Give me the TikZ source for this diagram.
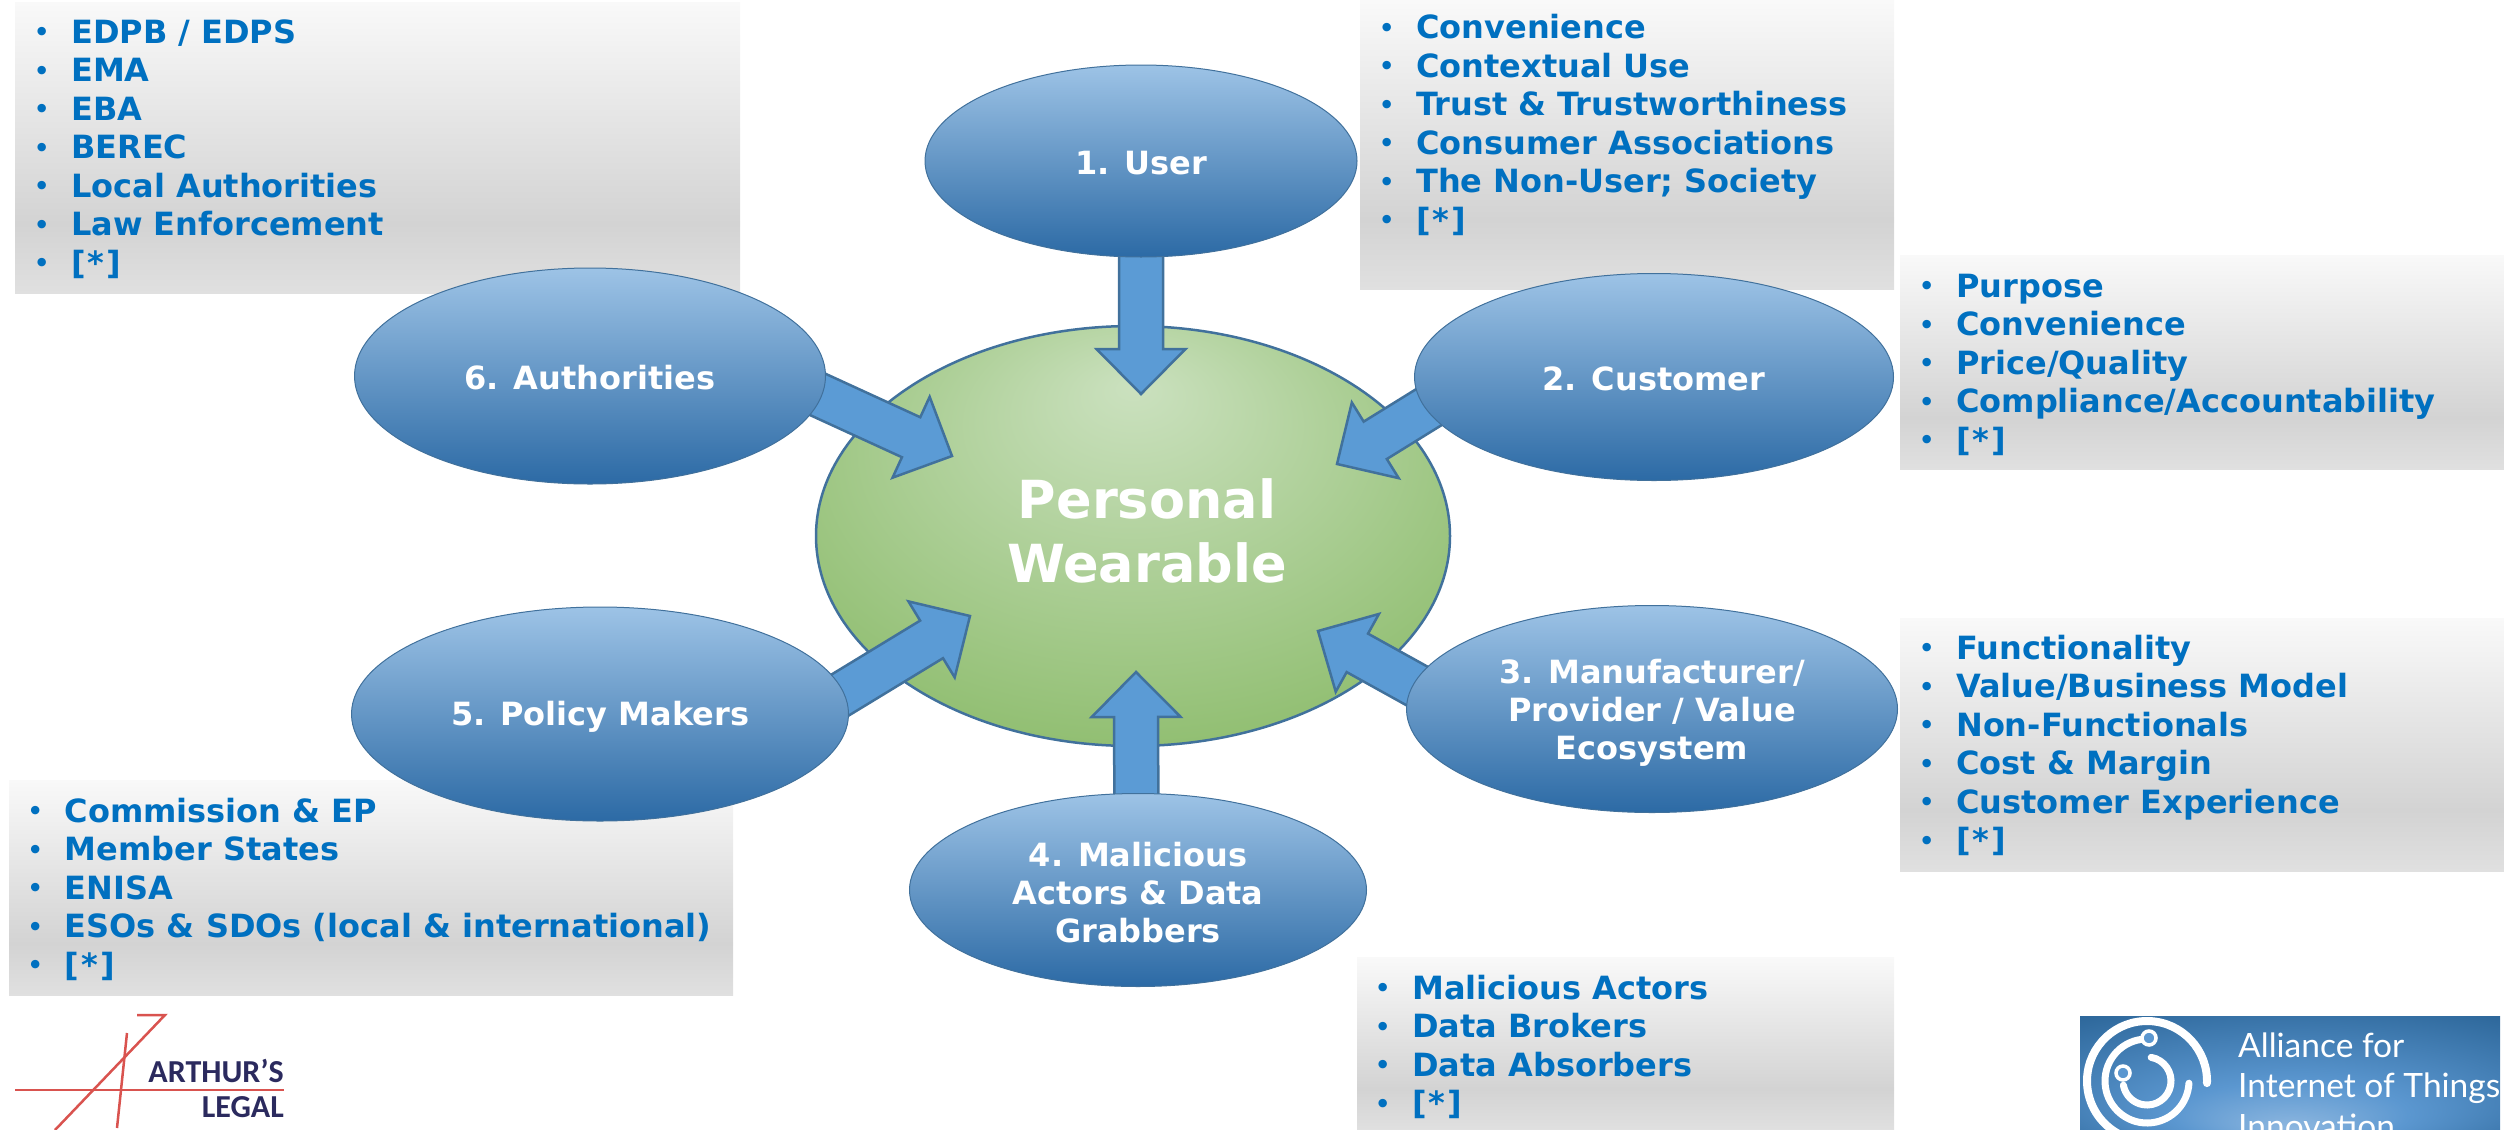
\documentclass[tikz,border=0pt]{standalone}
\usepackage{fontspec}
\setmainfont{DejaVu Sans}
\newfontfamily\logofont{Lato}
\newfontfamily\legalfont{Carlito}
\usetikzlibrary{shapes.geometric,calc}
\definecolor{listblue}{HTML}{0070C0}
\definecolor{arrowblue}{HTML}{5B9BD5}
\definecolor{edgeblue}{HTML}{41719C}
\definecolor{ovaltop}{HTML}{9DC3E6}
\definecolor{ovalbottom}{HTML}{2C6AA5}
\definecolor{greytop}{HTML}{F9F9F9}
\definecolor{greymid}{HTML}{D3D3D3}
\definecolor{greybottom}{HTML}{E0E0E0}
\definecolor{hublight}{HTML}{CBE1BF}
\definecolor{hubdark}{HTML}{86B863}
\definecolor{logolight}{HTML}{8FB8E0}
\definecolor{logomid}{HTML}{5B97D0}
\definecolor{logodark}{HTML}{2C6699}
\definecolor{legalred}{HTML}{D9534F}
\definecolor{legalink}{HTML}{2B2A5E}
\pgfdeclareverticalshading{greyfade}{100bp}{color(0bp)=(greybottom);color(25bp)=(greybottom);color(37bp)=(greymid);color(75bp)=(greytop);color(100bp)=(greytop)}
\pgfdeclareradialshading{hubglow}{\pgfpoint{0bp}{18bp}}{color(0bp)=(hublight);color(38bp)=(hubdark);color(50bp)=(hubdark)}
\pgfdeclareradialshading{logoglow}{\pgfpoint{0bp}{-25bp}}{color(0bp)=(logolight);color(14bp)=(logomid);color(40bp)=(logodark);color(50bp)=(logodark)}
\pgfdeclarelayer{boxes}
\pgfdeclarelayer{hub}
\pgfdeclarelayer{arrows}
\pgfsetlayers{boxes,hub,arrows,main}
\newcommand{\itm}{\rule[-11.3pt]{0pt}{38.5pt}\makebox[38pt][l]{\hspace*{1pt}\fontsize{24}{24}\selectfont\raisebox{2.5pt}{•}}}
\newcommand{\others}{[\kern2pt*\kern2pt]}
\newcommand{\blockarrow}[2]{%
	\coordinate (neck) at ($(#2)!45pt!(#1)$);
	\coordinate (back) at ($(#1)!-30pt!(#2)$);
	\draw[arrowshape] (#2)--($(neck)!44.5pt!90:(#2)$)--($(neck)!22pt!90:(#2)$)--($(back)!22pt!90:(#2)$)--($(back)!22pt!-90:(#2)$)--($(neck)!22pt!-90:(#2)$)--($(neck)!44.5pt!-90:(#2)$)--cycle;
}
\begin{document}
\begin{tikzpicture}[x=1pt,y=-1pt,
		greybox/.style={anchor=north west,inner sep=0pt,shading=greyfade},
		itemlist/.style={anchor=north west,inner sep=0pt,align=left,text=listblue,font=\fontsize{32}{38.5}\selectfont\bfseries},
		oval/.style={ellipse,draw=edgeblue,line width=1pt,inner sep=0pt,align=center,text=white,top color=ovaltop,middle color=arrowblue,bottom color=ovalbottom,font=\fontsize{32}{38.3}\selectfont\bfseries,execute at begin node=\rule{0pt}{27pt}},
		arrowshape/.style={draw=edgeblue,line width=2.5pt,fill=arrowblue},
		logoring/.style={draw=white,line cap=round,line width=7pt},
		logodot/.style={draw=white,line width=3.5pt,fill=logomid},
		logotext/.style={anchor=base west,inner sep=0pt,text=white,font=\logofont\fontsize{33.5}{33.5}\selectfont},
		legaltext/.style={anchor=base east,inner sep=0pt,text=legalink,font=\legalfont\fontsize{32}{32}\selectfont\bfseries},
		legalline/.style={legalred,line width=2.5pt}]
	\useasboundingbox (0,0) rectangle (2504,1130);
	\begin{pgfonlayer}{boxes}
		\node[greybox,minimum width=725pt,minimum height=291pt] (boxsix) at (15,2) {};
		\node[greybox,minimum width=534pt,minimum height=289pt] (boxone) at (1360,0) {};
		\node[greybox,minimum width=604pt,minimum height=214pt] (boxtwo) at (1900,255) {};
		\node[greybox,minimum width=604pt,minimum height=253pt] (boxthree) at (1900,618) {};
		\node[greybox,minimum width=537pt,minimum height=173pt] (boxfour) at (1357,957) {};
		\node[greybox,minimum width=724pt,minimum height=215pt] (boxfive) at (9,780) {};
		\node[itemlist] (listsix) at (33,15.8) {\itm EDPB / EDPS\\\itm EMA\\\itm EBA\\\itm BEREC\\\itm Local Authorities\\\itm Law Enforcement\\\itm \others};
		\node[itemlist] (listone) at (1378,11.5) {\itm Convenience\\\itm Contextual Use\\\itm Trust \& Trustworthiness\\\itm Consumer Associations\\\itm The Non-User; Society\\\itm \others};
		\node[itemlist] (listtwo) at (1918,269.8) {\itm Purpose\\\itm Convenience\\\itm Price/Quality\\\itm Compliance/Accountability\\\itm \others};
		\node[itemlist] (listthree) at (1918,631.8) {\itm Functionality\\\itm Value/Business Model\\\itm Non-Functionals\\\itm Cost \& Margin\\\itm Customer Experience\\\itm \others};
		\node[itemlist] (listfour) at (1374,971.8) {\itm Malicious Actors\\\itm Data Brokers\\\itm Data Absorbers\\\itm \others};
		\node[itemlist] (listfive) at (26.5,794.8) {\itm Commission \& EP\\\itm Member States\\\itm ENISA\\\itm ESOs \& SDOs (local \& international)\\\itm \others};
	\end{pgfonlayer}
	\begin{pgfonlayer}{hub}
		\node[ellipse,draw=edgeblue,line width=2.5pt,inner sep=0pt,shading=hubglow,minimum width=634pt,minimum height=420pt] (hub) at (1133,536) {};
	\end{pgfonlayer}
	\node[oval,minimum width=432pt,minimum height=192pt] (user) at (1141,161) {1. User};
	\node[oval,minimum width=479pt,minimum height=207pt] (customer) at (1654,377) {2. Customer};
	\node[oval,minimum width=491pt,minimum height=207pt] (manufacturer) at (1652,709) {\rule{0pt}{32pt}3. Manufacturer/\\Provider / Value\\Ecosystem};
	\node[oval,minimum width=457pt,minimum height=193pt] (malicious) at (1138,890) {\rule{0pt}{29.5pt}4. Malicious\\Actors \& Data\\Grabbers};
	\node[oval,minimum width=497pt,minimum height=214pt] (policy) at (600,714) {\rule{0pt}{29pt}5. Policy Makers};
	\node[oval,minimum width=471pt,minimum height=216pt] (authorities) at (590,376) {6. Authorities};
	\node[inner sep=0pt,align=center,text=white,font=\fontsize{52.5}{64}\selectfont\bfseries] (hublabel) at (1147,531) {Personal\\Wearable};
	\coordinate (tipuser) at (1141,394);
	\coordinate (tipcustomer) at (1337,464);
	\coordinate (tipmanufacturer) at (1318,631);
	\coordinate (tipmalicious) at (1136,672);
	\coordinate (tippolicy) at (970,616);
	\coordinate (tipauthorities) at (952,456);
	\begin{pgfonlayer}{arrows}
		\blockarrow{user.south}{tipuser}
		\blockarrow{customer.188}{tipcustomer}
		\blockarrow{manufacturer.174.4}{tipmanufacturer}
		\blockarrow{malicious.91.5}{tipmalicious}
		\blockarrow{policy.5.5}{tippolicy}
		\blockarrow{authorities.-5}{tipauthorities}
	\end{pgfonlayer}
	\draw[legalline] (15,1090)--(284,1090);
	\draw[legalline] (55,1130)--(165,1015)--(137,1015);
	\draw[legalline] (127,1033)--(117,1128);
	\node[legaltext] (legalone) at (284,1082) {ARTHUR’S};
	\node[legaltext] (legaltwo) at (284,1117) {LEGAL};
	\begin{scope}
		\clip (2080,1016) rectangle (2500,1130);
		\node[anchor=north west,inner sep=0pt,minimum width=420pt,minimum height=114pt,shading=logoglow] (logobox) at (2080,1016) {};
		\begin{scope}[shift={(2147,1081)},y=1pt]
			\draw[logoring,line width=8pt] (-2:60pt) arc[start angle=-2,end angle=290,radius=60pt];
			\draw[logoring] (97:42pt) arc[start angle=97,end angle=357,radius=42pt];
			\draw[logoring] (80:24pt) arc[start angle=80,end angle=-170,radius=24pt];
			\draw[logodot] (2pt,43pt) circle[radius=7pt];
			\draw[logodot] (-24pt,8pt) circle[radius=7pt];
		\end{scope}
		\node[logotext] (logoone) at (2238,1057) {Alliance for};
		\node[logotext] (logotwo) at (2238,1097) {Internet of Things};
		\node[logotext] (logothree) at (2238,1138) {Innovation};
	\end{scope}
\end{tikzpicture}
\end{document}
